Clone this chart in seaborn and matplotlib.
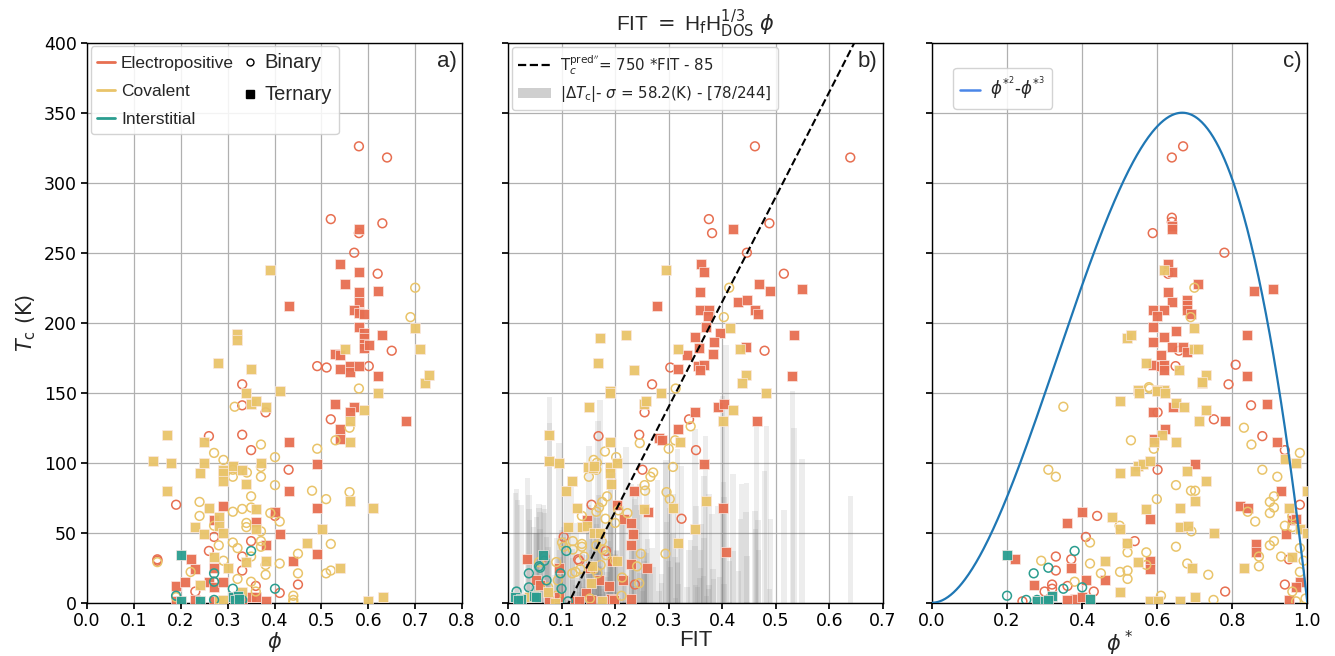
import numpy as np
import pandas as pd
import matplotlib
matplotlib.use("Agg")
import matplotlib.pyplot as plt
from matplotlib.lines import Line2D
from matplotlib.patches import Patch
import seaborn as sns

# ---------------------------------------------------------------
# Measured critical temperatures (K) against three descriptors.
# Each entry is (descriptor value, Tc).
# ---------------------------------------------------------------

# panel a: Tc vs phi
A_ELEC_BIN = [(0.580, 326), (0.640, 318), (0.520, 274), (0.580, 264), (0.630, 271), (0.570, 250),
              (0.620, 235), (0.650, 180), (0.491, 169), (0.511, 168), (0.601, 169), (0.331, 156),
              (0.331, 141), (0.381, 136), (0.520, 131), (0.260, 119), (0.331, 120), (0.350, 109),
              (0.430, 95), (0.190, 70), (0.401, 62), (0.271, 47), (0.350, 44), (0.260, 37),
              (0.331, 33), (0.150, 31), (0.150, 30), (0.331, 23), (0.271, 15), (0.231, 8),
              (0.360, 12), (0.411, 7), (0.450, 13)]
A_ELEC_TER = [(0.580, 267), (0.540, 242), (0.580, 236), (0.551, 228), (0.620, 223), (0.580, 222),
              (0.580, 215), (0.430, 212), (0.570, 209), (0.580, 207), (0.591, 206), (0.580, 197),
              (0.591, 193), (0.591, 189), (0.591, 185), (0.591, 182), (0.601, 184), (0.630, 191),
              (0.530, 178), (0.540, 177), (0.540, 167), (0.560, 169), (0.560, 165), (0.580, 169),
              (0.620, 162), (0.530, 142), (0.570, 140), (0.560, 136), (0.540, 124), (0.540, 117),
              (0.680, 130), (0.430, 115), (0.491, 99), (0.291, 69), (0.430, 80), (0.491, 68),
              (0.401, 65), (0.271, 59), (0.360, 58), (0.411, 49), (0.381, 41), (0.491, 35),
              (0.221, 31), (0.231, 24), (0.271, 25), (0.440, 30), (0.190, 12), (0.210, 15),
              (0.260, 15), (0.271, 11), (0.291, 15), (0.311, 4), (0.350, 4), (0.360, 4),
              (0.190, 1), (0.231, 2), (0.271, 1), (0.331, 1), (0.381, 1)]
A_COV_BIN = [(0.700, 225), (0.690, 204), (0.580, 153), (0.315, 140), (0.560, 125), (0.530, 116),
             (0.371, 113), (0.271, 107), (0.291, 102), (0.311, 95), (0.311, 90), (0.341, 93),
             (0.371, 97), (0.371, 90), (0.401, 104), (0.401, 84), (0.491, 110), (0.240, 72),
             (0.240, 62), (0.311, 65), (0.331, 67), (0.350, 76), (0.350, 68), (0.480, 80),
             (0.510, 74), (0.560, 79), (0.391, 64), (0.411, 58), (0.271, 55), (0.340, 57),
             (0.340, 54), (0.371, 51), (0.281, 41), (0.311, 43), (0.321, 39), (0.371, 44),
             (0.371, 40), (0.520, 42), (0.450, 35), (0.350, 33), (0.150, 29), (0.221, 22),
             (0.291, 30), (0.381, 27), (0.381, 20), (0.411, 28), (0.450, 21), (0.510, 21),
             (0.520, 23), (0.321, 17), (0.190, 4), (0.360, 8), (0.350, 15), (0.440, 5),
             (0.440, 2), (0.440, 0)]
A_COV_TER = [(0.391, 238), (0.700, 196), (0.710, 181), (0.320, 192), (0.320, 188), (0.551, 181),
             (0.280, 171), (0.350, 167), (0.720, 157), (0.730, 163), (0.340, 150), (0.411, 151),
             (0.620, 150), (0.350, 142), (0.360, 144), (0.381, 140), (0.591, 138), (0.560, 130),
             (0.560, 115), (0.170, 120), (0.250, 115), (0.140, 101), (0.180, 100), (0.250, 100),
             (0.240, 93), (0.291, 95), (0.291, 93), (0.311, 98), (0.331, 95), (0.371, 100),
             (0.291, 87), (0.340, 85), (0.170, 80), (0.260, 68), (0.360, 67), (0.560, 73),
             (0.610, 68), (0.281, 61), (0.281, 55), (0.231, 54), (0.250, 49), (0.291, 50),
             (0.360, 53), (0.501, 53), (0.470, 43), (0.271, 33), (0.301, 25), (0.340, 29),
             (0.381, 30), (0.540, 25), (0.240, 13), (0.331, 8), (0.631, 4), (0.600, 1),
             (0.281, 1), (0.290, 2)]
A_INT_BIN = [(0.350, 37), (0.271, 21), (0.271, 15), (0.190, 5), (0.311, 10), (0.401, 10),
             (0.271, 2), (0.331, 2)]
A_INT_TER = [(0.200, 34), (0.311, 4), (0.321, 5), (0.200, 1), (0.240, 1), (0.315, 2), (0.325, 3)]

# panel b: Tc vs FIT
B_ELEC_BIN = [(0.461, 326), (0.639, 318), (0.375, 274), (0.381, 264), (0.488, 271), (0.446, 250),
              (0.515, 235), (0.479, 180), (0.303, 168), (0.269, 156), (0.255, 136), (0.338, 131),
              (0.169, 119), (0.245, 120), (0.351, 109), (0.251, 95), (0.156, 70), (0.324, 60),
              (0.183, 37), (0.104, 47), (0.131, 31), (0.133, 30), (0.068, 33), (0.237, 13),
              (0.170, 1)]
B_ELEC_TER = [(0.420, 267), (0.361, 242), (0.366, 236), (0.468, 228), (0.490, 223), (0.549, 224),
              (0.359, 222), (0.430, 215), (0.446, 216), (0.462, 209), (0.467, 206), (0.279, 212),
              (0.359, 209), (0.375, 209), (0.374, 205), (0.370, 197), (0.395, 193), (0.534, 191),
              (0.350, 190), (0.384, 186), (0.356, 182), (0.383, 178), (0.334, 177), (0.444, 183),
              (0.318, 167), (0.354, 169), (0.365, 170), (0.358, 166), (0.531, 162), (0.349, 136),
              (0.392, 140), (0.403, 142), (0.464, 130), (0.282, 118), (0.287, 116), (0.317, 124),
              (0.366, 99), (0.236, 80), (0.203, 70), (0.217, 60), (0.230, 57), (0.261, 65),
              (0.401, 68), (0.147, 59), (0.234, 49), (0.230, 41), (0.407, 36), (0.096, 25),
              (0.036, 31), (0.195, 30), (0.153, 25), (0.259, 25), (0.230, 28), (0.053, 16),
              (0.060, 13), (0.170, 16), (0.188, 12), (0.215, 16), (0.145, 7), (0.096, 4),
              (0.076, 2), (0.125, 1), (0.133, 1), (0.155, 2), (0.192, 3), (0.197, 2), (0.230, 3)]
B_COV_BIN = [(0.413, 225), (0.403, 204), (0.313, 153), (0.341, 126), (0.246, 114), (0.312, 116),
             (0.300, 110), (0.166, 100), (0.160, 102), (0.202, 104), (0.181, 108), (0.151, 90),
             (0.165, 95), (0.271, 93), (0.266, 90), (0.308, 97), (0.255, 84), (0.256, 80),
             (0.185, 76), (0.296, 79), (0.302, 74), (0.138, 62), (0.176, 72), (0.170, 68),
             (0.165, 65), (0.206, 66), (0.223, 64), (0.200, 57), (0.182, 60), (0.175, 44),
             (0.165, 41), (0.177, 38), (0.183, 34), (0.121, 44), (0.138, 42), (0.138, 40),
             (0.142, 33), (0.121, 38), (0.294, 35), (0.248, 35), (0.104, 40), (0.101, 43),
             (0.058, 29), (0.090, 29), (0.200, 30), (0.120, 21), (0.126, 22), (0.135, 24),
             (0.167, 21), (0.173, 27), (0.160, 24), (0.241, 26), (0.213, 18), (0.245, 14),
             (0.075, 11), (0.093, 16), (0.054, 5), (0.090, 5), (0.212, 5), (0.153, 3)]
B_COV_TER = [(0.295, 238), (0.414, 196), (0.434, 181), (0.317, 181), (0.220, 191), (0.172, 189),
             (0.168, 171), (0.236, 166), (0.445, 163), (0.436, 157), (0.191, 151), (0.191, 150),
             (0.286, 150), (0.482, 150), (0.254, 142), (0.258, 144), (0.151, 140), (0.420, 138),
             (0.402, 130), (0.077, 120), (0.322, 115), (0.191, 115), (0.077, 101), (0.095, 100),
             (0.150, 97), (0.158, 96), (0.160, 98), (0.190, 97), (0.190, 93), (0.193, 85),
             (0.204, 100), (0.119, 87), (0.109, 80), (0.128, 68), (0.254, 67), (0.308, 68),
             (0.369, 73), (0.349, 53), (0.139, 54), (0.148, 55), (0.161, 50), (0.172, 50),
             (0.317, 43), (0.112, 54), (0.203, 30), (0.157, 26), (0.155, 14), (0.074, 8),
             (0.040, 4), (0.087, 0), (0.176, 1)]
B_INT_BIN = [(0.109, 37), (0.098, 21), (0.068, 30), (0.060, 25), (0.039, 21), (0.058, 26),
             (0.072, 16), (0.100, 10), (0.039, 11), (0.016, 8), (0.112, 1)]
B_INT_TER = [(0.066, 34), (0.014, 4), (0.024, 3), (0.048, 5), (0.052, 4), (0.018, 2)]

# panel c: Tc vs phi*
C_ELEC_BIN = [(0.669, 326), (0.639, 318), (0.639, 275), (0.639, 272), (0.588, 264), (0.779, 250),
              (0.629, 235), (0.658, 180), (0.649, 169), (0.809, 170), (0.790, 156), (0.751, 131),
              (0.601, 136), (0.850, 141), (0.880, 119), (0.940, 109), (0.601, 95), (0.980, 70),
              (0.440, 62), (0.410, 47), (0.540, 44), (0.951, 31), (0.371, 31), (0.330, 33),
              (0.330, 23), (0.320, 13), (0.320, 10), (0.361, 12), (0.431, 8), (0.300, 8),
              (0.781, 8), (0.940, 13), (0.241, 1)]
C_ELEC_TER = [(0.639, 269), (0.639, 267), (0.629, 242), (0.639, 236), (0.709, 228), (0.858, 223),
              (0.909, 224), (0.629, 222), (0.639, 215), (0.679, 216), (0.679, 213), (0.679, 209),
              (0.689, 206), (0.588, 209), (0.619, 209), (0.599, 205), (0.588, 197), (0.649, 194),
              (0.619, 190), (0.839, 191), (0.588, 186), (0.639, 183), (0.669, 183), (0.679, 179),
              (0.609, 177), (0.588, 170), (0.609, 169), (0.619, 170), (0.619, 166), (0.839, 162),
              (0.590, 136), (0.641, 140), (0.780, 130), (0.892, 142), (0.621, 124), (0.591, 117),
              (0.920, 115), (0.701, 99), (0.931, 80), (0.820, 69), (0.841, 68), (0.580, 60),
              (0.960, 59), (0.971, 60), (0.400, 65), (0.361, 57), (0.942, 49), (0.862, 42),
              (0.862, 36), (0.220, 31), (0.580, 30), (0.580, 24), (0.371, 25), (0.410, 16),
              (0.460, 16), (0.271, 13), (0.980, 15), (0.971, 11), (0.950, 2), (0.380, 3),
              (0.361, 2), (0.400, 4)]
C_COV_BIN = [(0.699, 225), (0.689, 204), (0.578, 154), (0.580, 153), (0.350, 140), (0.530, 116),
             (0.591, 110), (0.831, 125), (0.851, 113), (0.310, 95), (0.330, 90), (0.650, 84),
             (0.599, 74), (0.690, 80), (0.701, 80), (0.880, 95), (0.920, 90), (0.980, 107),
             (0.900, 72), (0.911, 76), (0.911, 68), (0.900, 64), (0.841, 65), (0.861, 58),
             (0.960, 62), (0.940, 55), (0.500, 55), (0.691, 51), (0.960, 54), (0.421, 43),
             (0.521, 42), (0.650, 40), (0.521, 36), (0.571, 36), (0.900, 41), (0.911, 44),
             (0.930, 33), (0.980, 39), (0.990, 30), (0.871, 33), (0.291, 30), (0.421, 28),
             (0.571, 27), (0.680, 28), (0.871, 26), (0.980, 22), (0.450, 21), (0.501, 22),
             (0.521, 23), (0.521, 17), (0.380, 15), (0.736, 20), (0.610, 5), (0.750, 2),
             (0.960, 8), (0.970, 1), (0.995, 3)]
C_COV_TER = [(0.619, 238), (0.699, 196), (0.519, 189), (0.529, 191), (0.699, 181), (0.710, 181),
             (0.570, 171), (0.658, 166), (0.729, 163), (0.719, 157), (0.548, 152), (0.599, 152),
             (0.619, 152), (0.720, 158), (0.551, 150), (0.599, 151), (0.621, 150), (0.500, 144),
             (0.650, 143), (0.671, 140), (0.731, 138), (0.711, 130), (0.612, 120), (0.591, 115),
             (0.650, 115), (0.940, 103), (0.971, 100), (0.550, 98), (0.561, 99), (0.580, 101),
             (0.500, 93), (0.540, 94), (0.680, 94), (0.731, 87), (0.701, 73), (0.661, 68),
             (0.571, 67), (0.950, 68), (0.480, 61), (0.500, 53), (0.661, 54), (0.681, 55),
             (0.751, 50), (0.980, 53), (0.998, 50), (0.998, 80), (0.520, 43), (0.960, 33),
             (0.460, 30), (0.550, 29), (0.692, 25), (0.831, 25), (0.500, 8), (0.701, 4),
             (0.580, 1), (0.601, 1), (0.661, 1)]
C_INT_BIN = [(0.380, 37), (0.271, 21), (0.310, 25), (0.350, 10), (0.400, 11), (0.200, 5),
             (0.251, 2), (0.280, 2)]
C_INT_TER = [(0.200, 34), (0.320, 5), (0.280, 1), (0.300, 1), (0.310, 2), (0.420, 3)]

CLASSES = ["Electropositive", "Covalent", "Interstitial"]
CLASS_COLORS = ["#E76F51", "#E9C46A", "#2A9D8F"]

# linear Tc model of panel b: Tc = SLOPE * FIT + OFFSET
FIT_SLOPE = 750
FIT_OFFSET = -85
# peak height of the phi*^2 - phi*^3 envelope in panel c
ENVELOPE_PEAK = 350


def to_frame(groups, xname):
    rows = []
    for cls, kind, pts in groups:
        for x, tc in pts:
            rows.append({xname: x, "Tc": tc, "cls": cls, "kind": kind})
    return pd.DataFrame(rows)


df_a = to_frame([("Electropositive", "Binary", A_ELEC_BIN), ("Electropositive", "Ternary", A_ELEC_TER),
                 ("Covalent", "Binary", A_COV_BIN), ("Covalent", "Ternary", A_COV_TER),
                 ("Interstitial", "Binary", A_INT_BIN), ("Interstitial", "Ternary", A_INT_TER)], "phi")
df_b = to_frame([("Electropositive", "Binary", B_ELEC_BIN), ("Electropositive", "Ternary", B_ELEC_TER),
                 ("Covalent", "Binary", B_COV_BIN), ("Covalent", "Ternary", B_COV_TER),
                 ("Interstitial", "Binary", B_INT_BIN), ("Interstitial", "Ternary", B_INT_TER)], "FIT")
df_c = to_frame([("Electropositive", "Binary", C_ELEC_BIN), ("Electropositive", "Ternary", C_ELEC_TER),
                 ("Covalent", "Binary", C_COV_BIN), ("Covalent", "Ternary", C_COV_TER),
                 ("Interstitial", "Binary", C_INT_BIN), ("Interstitial", "Ternary", C_INT_TER)], "phistar")

sns.set_theme(style="ticks")
plt.rcParams.update({
    "font.family": ["DejaVu Sans"],
    "mathtext.fontset": "dejavusans",
    "axes.edgecolor": "black",
    "axes.linewidth": 1.0,
    "axes.grid": True,
    "grid.color": "#b0b0b0",
    "grid.linewidth": 0.9,
    "xtick.color": "black",
    "ytick.color": "black",
    "xtick.direction": "out",
    "ytick.direction": "out",
    "xtick.major.size": 4,
    "ytick.major.size": 4,
    "xtick.major.pad": 2.5,
    "xtick.labelsize": 12.5,
    "ytick.labelsize": 12.5,
})
LABEL_FONT = "Liberation Sans"

fig = plt.figure(figsize=(13.35, 6.56), dpi=100)
bottom, height = 0.0812, 0.8537
ax_a = fig.add_axes([0.0652, bottom, 0.2809, height])
ax_b = fig.add_axes([0.3805, bottom, 0.2809, height])
ax_c = fig.add_axes([0.6981, bottom, 0.2812, height])


def draw_points(ax, df, xcol):
    for cls, color in zip(CLASSES, CLASS_COLORS):
        sub = df[(df.cls == cls) & (df.kind == "Binary")]
        sns.scatterplot(data=sub, x=xcol, y="Tc", ax=ax, marker="o", s=40,
                        facecolor="none", edgecolor=color, linewidth=1.1, zorder=4, legend=False)
        ax.collections[-1].set_facecolor("none")
        ax.collections[-1].set_edgecolor(color)
        sub = df[(df.cls == cls) & (df.kind == "Ternary")]
        sns.scatterplot(data=sub, x=xcol, y="Tc", ax=ax, marker="s", s=46,
                        color=color, edgecolor="#fbe9e4", linewidth=0.5, alpha=0.95,
                        zorder=4, legend=False)


# ---- panel b background: absolute deviation from the linear model ----
dev = (df_b["Tc"] - (FIT_SLOPE * df_b["FIT"] + FIT_OFFSET)).abs()
ax_b.bar(df_b["FIT"], dev, width=0.01, color="#777777", alpha=0.13, linewidth=0, zorder=1)

draw_points(ax_a, df_a, "phi")
draw_points(ax_b, df_b, "FIT")
draw_points(ax_c, df_c, "phistar")

fit_line = np.linspace(0.0, 0.7, 50)
ax_b.plot(fit_line, FIT_SLOPE * fit_line + FIT_OFFSET, color="black", ls="--", lw=1.5, zorder=5)

ps = np.linspace(0, 1, 400)
ax_c.plot(ps, ENVELOPE_PEAK * 27 / 4 * (ps ** 2 - ps ** 3), color="#1f77b4", lw=1.6, zorder=5)

# ---- axes cosmetics ----
for ax, xmax, step in [(ax_a, 0.8, 0.1), (ax_b, 0.7, 0.1), (ax_c, 1.0, 0.2)]:
    ax.set_xlim(0, xmax)
    ax.set_ylim(0, 400)
    ax.set_xticks(np.round(np.arange(0, xmax + 1e-9, step), 1))
    ax.set_yticks(np.arange(0, 401, 50))
    ax.set_axisbelow(True)
    for sp in ax.spines.values():
        sp.set_visible(True)
        sp.set_color("black")

ax_b.tick_params(labelleft=False)
ax_c.tick_params(labelleft=False)

ax_a.set_ylabel(r"$T_{\rm c}$ (K)", fontsize=15, labelpad=4)
ax_a.set_xlabel(r"$\phi$", fontsize=15, labelpad=0)
ax_b.set_xlabel("FIT", fontsize=16, family=LABEL_FONT, labelpad=0)
ax_c.set_xlabel(r"$\phi^*$", fontsize=15, labelpad=-1)
ax_b.set_ylabel("")
ax_c.set_ylabel("")

ax_b.set_title(r"FIT $=$ H$_{\rm f}$H$_{\rm DOS}^{1/3}$ $\phi$", fontsize=15, family=LABEL_FONT, pad=8)

for ax, tag in [(ax_a, "a)"), (ax_b, "b)"), (ax_c, "c)")]:
    ax.text(0.985, 0.985, tag, transform=ax.transAxes, ha="right", va="top",
            fontsize=16, family=LABEL_FONT, zorder=6)

# legend a: classes as coloured lines, structure types as markers
handles_a = [Line2D([], [], color=c, lw=2) for c in CLASS_COLORS]
handles_a += [Line2D([], [], marker="o", ls="none", mfc="none", mec="black", ms=5, mew=1),
              Line2D([], [], marker="s", ls="none", color="black", ms=6)]
labels_a = CLASSES + ["Binary", "Ternary"]
leg_a = ax_a.legend(handles_a, labels_a, ncol=2, loc="upper left", borderaxespad=0.2,
                    handlelength=1.0, handletextpad=0.35, columnspacing=0.4, labelspacing=0.75,
                    prop={"family": LABEL_FONT, "size": 12.5}, framealpha=0.85, fancybox=True)
for t in leg_a.get_texts()[3:]:
    t.set_fontsize(14.5)

# legend b: linear model and deviation bars
handles_b = [Line2D([], [], color="black", ls="--", lw=1.6),
             Patch(facecolor="#cfcfcf", edgecolor="none")]
labels_b = [r"$\mathrm{T}_c^{\mathrm{pred}''}$= 750 $*$FIT - 85",
            r"$|\Delta T_{\rm c}|$- $\sigma$ = 58.2(K) - [78/244]"]
ax_b.legend(handles_b, labels_b, loc="upper left", fontsize=10.8, borderaxespad=0.3,
            handlelength=2.2, handletextpad=0.6, framealpha=0.85, fancybox=True)

# legend c: envelope curve
handles_c = [Line2D([], [], color="#4a86e8", lw=1.8)]
ax_c.legend(handles_c, [r"$\phi^{*^2}$-$\phi^{*^3}$"], loc="upper left",
            bbox_to_anchor=(0.035, 0.97), fontsize=12, handlelength=1.2,
            handletextpad=0.6, framealpha=0.85, fancybox=True)

fig.savefig("out.png", dpi=100)
